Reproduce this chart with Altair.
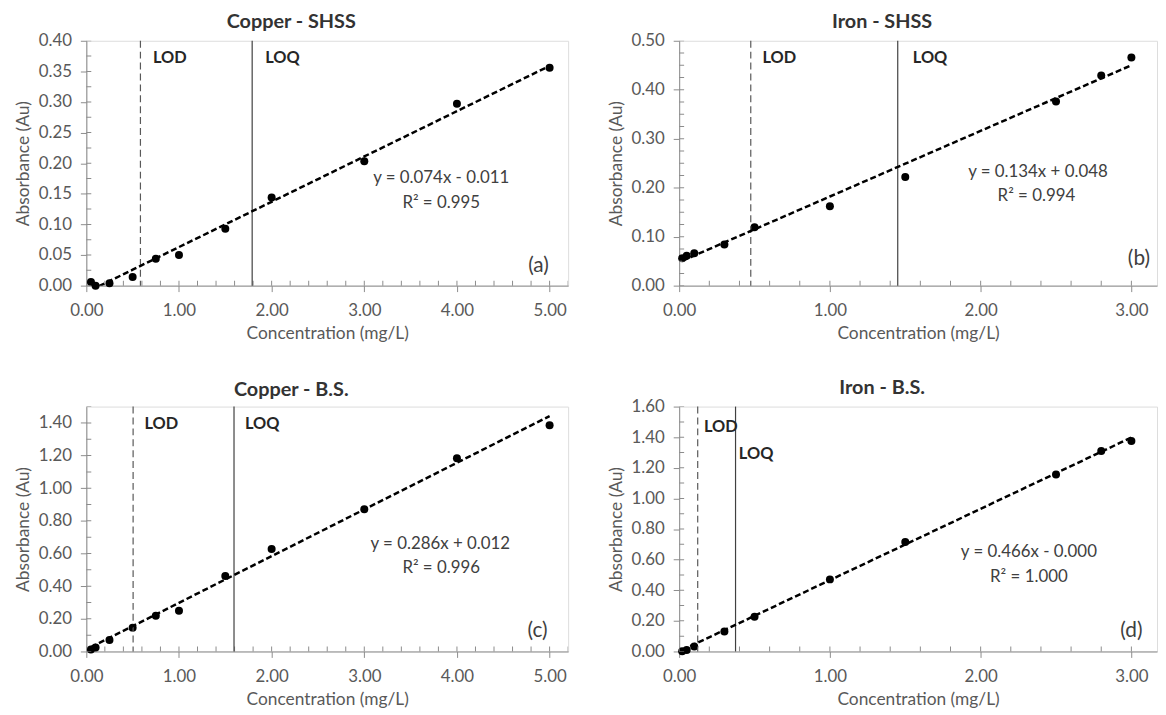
import altair as alt
import pandas as pd

FONT = "Lato"

# ---------------- data ----------------
TITLES = ["Copper - SHSS", "Iron - SHSS", "Copper - B.S.", "Iron - B.S."]
PANEL_TAGS = ["(a)", "(b)", "(c)", "(d)"]

CU_SHSS_CONC = [0.05, 0.10, 0.25, 0.50, 0.75, 1.00, 1.50, 2.00, 3.00, 4.00, 5.00]
CU_SHSS_ABS = [0.006, 0.000, 0.004, 0.014, 0.044, 0.050, 0.093, 0.144, 0.203, 0.297, 0.356]

FE_SHSS_CONC = [0.02, 0.05, 0.10, 0.30, 0.50, 1.00, 1.50, 2.50, 2.80, 3.00]
FE_SHSS_ABS = [0.056, 0.061, 0.066, 0.084, 0.119, 0.162, 0.222, 0.376, 0.429, 0.466]

CU_BS_CONC = [0.05, 0.10, 0.25, 0.50, 0.75, 1.00, 1.50, 2.00, 3.00, 4.00, 5.00]
CU_BS_ABS = [0.012, 0.024, 0.070, 0.146, 0.219, 0.250, 0.462, 0.628, 0.871, 1.183, 1.386]

FE_BS_CONC = [0.02, 0.05, 0.10, 0.30, 0.50, 1.00, 1.50, 2.50, 2.80, 3.00]
FE_BS_ABS = [0.002, 0.010, 0.033, 0.130, 0.227, 0.471, 0.716, 1.157, 1.310, 1.375]

SLOPES = [0.074, 0.134, 0.286, 0.466]
INTERCEPTS = [-0.011, 0.048, 0.012, -0.000]
EQUATIONS = ["y = 0.074x - 0.011", "y = 0.134x + 0.048", "y = 0.286x + 0.012", "y = 0.466x - 0.000"]
R2_LABELS = ["R\u00b2 = 0.995", "R\u00b2 = 0.994", "R\u00b2 = 0.996", "R\u00b2 = 1.000"]

LOD = [0.584, 0.475, 0.505, 0.123]
LOQ = [1.79, 1.45, 1.594, 0.374]

X_MAX = [5.2, 3.17, 5.2, 3.17]
Y_MAX = [0.40, 0.50, 1.50, 1.60]
X_MAJOR_STEP = 1.0
X_MINOR_STEP = 0.2
Y_MAJOR_STEP = [0.05, 0.10, 0.20, 0.20]
Y_MINOR_STEP = [0.025, 0.025, 0.10, 0.10]

# annotation anchor points (data coordinates)
LOD_TXT = [(0.72, 0.371), (0.553, 0.464), (0.628, 1.394), (0.165, 1.466)]
LOQ_TXT = [(1.93, 0.371), (1.55, 0.464), (1.713, 1.394), (0.396, 1.289)]
EQ_TXT = [(3.83, 0.175), (2.38, 0.232), (3.82, 0.660), (2.32, 0.651)]
R2_TXT = [(3.83, 0.135), (2.37, 0.182), (3.83, 0.508), (2.32, 0.486)]
TAG_TXT = [(4.88, 0.032), (3.05, 0.054), (4.87, 0.128), (3.00, 0.136)]

WIDTHS = [486, 482, 486, 482]
HEIGHTS = [247, 247, 247, 247]
TITLE_OFFSETS = [0, 0, 6, 0]

AXIS_GRAY = "#8c8c8c"
TEXT_GRAY = "#595959"


def steps(maxv, step):
    n = int(round(maxv / step + 1e-9))
    return [round(k * step, 4) for k in range(n + 1) if k * step <= maxv + 1e-9]


def panel(i, conc, absb):
    w, h = WIDTHS[i], HEIGHTS[i]
    df = pd.DataFrame({"conc": conc, "abs": absb})
    xs = alt.Scale(domain=[0, X_MAX[i]], nice=False, zero=False)
    ys = alt.Scale(domain=[0, Y_MAX[i]], nice=False, zero=False)

    x_major = steps(X_MAX[i], X_MAJOR_STEP)
    y_major = steps(Y_MAX[i], Y_MAJOR_STEP[i])
    x_minor = steps(X_MAX[i], X_MINOR_STEP)
    y_minor = steps(Y_MAX[i], Y_MINOR_STEP[i])

    common = dict(grid=False, labelFont=FONT, labelFontSize=17, labelColor=TEXT_GRAY,
                  titleFont=FONT, titleFontSize=17.5, titleFontWeight="normal",
                  titleColor=TEXT_GRAY, domainColor=AXIS_GRAY, tickColor=AXIS_GRAY,
                  labelFlush=False, labelOverlap=False, tickSize=6, format=".2f")
    x_axis = alt.Axis(values=x_major, title="Concentration (mg/L)", orient="bottom",
                      labelPadding=11, titlePadding=6, **common)
    y_axis = alt.Axis(values=y_major, title="Absorbance (Au)", orient="left",
                      labelPadding=9, titlePadding=6, **common)

    pts = alt.Chart(df).mark_circle(size=65, color="black", opacity=1).encode(
        x=alt.X("conc:Q", scale=xs, axis=x_axis),
        y=alt.Y("abs:Q", scale=ys, axis=y_axis),
    )
    fit = alt.Chart(df).transform_calculate(
        fit=f"{SLOPES[i]} * datum.conc + ({INTERCEPTS[i]})"
    ).mark_line(color="black", strokeWidth=2.5, strokeDash=[6, 3], clip=True).encode(
        x=alt.X("conc:Q", scale=xs, axis=None),
        y=alt.Y("fit:Q", scale=ys, axis=None),
    )
    # inner tick marks (clipped to the plot, so only the inside half shows)
    xt = alt.Chart(pd.DataFrame({"v": x_minor, "base": [0.0] * len(x_minor)})).mark_tick(
        orient="vertical", size=10, thickness=1, color=AXIS_GRAY, clip=True, opacity=1).encode(
        x=alt.X("v:Q", scale=xs, axis=None), y=alt.Y("base:Q", scale=ys, axis=None))
    yt = alt.Chart(pd.DataFrame({"v": y_minor, "base": [0.0] * len(y_minor)})).mark_tick(
        orient="horizontal", size=10, thickness=1, color=AXIS_GRAY, clip=True, opacity=1).encode(
        y=alt.Y("v:Q", scale=ys, axis=None), x=alt.X("base:Q", scale=xs, axis=None))

    lod_rule = alt.Chart(pd.DataFrame({"v": [LOD[i]]})).mark_rule(
        color="#595959", strokeWidth=1.2, strokeDash=[7, 4]).encode(
        x=alt.X("v:Q", scale=xs, axis=None))
    loq_rule = alt.Chart(pd.DataFrame({"v": [LOQ[i]]})).mark_rule(
        color="#404040", strokeWidth=1.2).encode(
        x=alt.X("v:Q", scale=xs, axis=None))

    def txt(pos, text, size, weight="normal", align="left", color="#404040"):
        d = pd.DataFrame({"x": [pos[0]], "y": [pos[1]], "t": [text]})
        return alt.Chart(d).mark_text(font=FONT, fontSize=size, fontWeight=weight,
                                      align=align, baseline="middle", color=color).encode(
            x=alt.X("x:Q", scale=xs, axis=None),
            y=alt.Y("y:Q", scale=ys, axis=None),
            text="t:N")

    texts = [
        txt(LOD_TXT[i], "LOD", 16.5, "bold", "left", "#262626"),
        txt(LOQ_TXT[i], "LOQ", 16.5, "bold", "left", "#262626"),
        txt(EQ_TXT[i], EQUATIONS[i], 17, "normal", "center"),
        txt(R2_TXT[i], R2_LABELS[i], 17, "normal", "center"),
        txt(TAG_TXT[i], PANEL_TAGS[i], 21, "normal", "center"),
    ]

    return alt.layer(pts, xt, yt, lod_rule, loq_rule, fit, *texts).resolve_axis(
        x="independent", y="independent"
    ).properties(
        width=w, height=h,
        title=alt.TitleParams(TITLES[i], font=FONT, fontSize=20, fontWeight="bold",
                              color="#333333", offset=TITLE_OFFSETS[i], anchor="middle",
                              frame="bounds"),
    )


a = panel(0, CU_SHSS_CONC, CU_SHSS_ABS)
b = panel(1, FE_SHSS_CONC, FE_SHSS_ABS)
c = panel(2, CU_BS_CONC, CU_BS_ABS)
d = panel(3, FE_BS_CONC, FE_BS_ABS)

chart = alt.concat(a, b, c, d, columns=2, spacing={"row": 122, "column": 112},
                   bounds="flush").properties(
    padding={"left": 5, "top": 0, "right": 0, "bottom": 0},
).configure_view(stroke=AXIS_GRAY, strokeWidth=1).configure(background="white")

chart.save("out.html", embed_options={"renderer": "svg", "actions": False})
